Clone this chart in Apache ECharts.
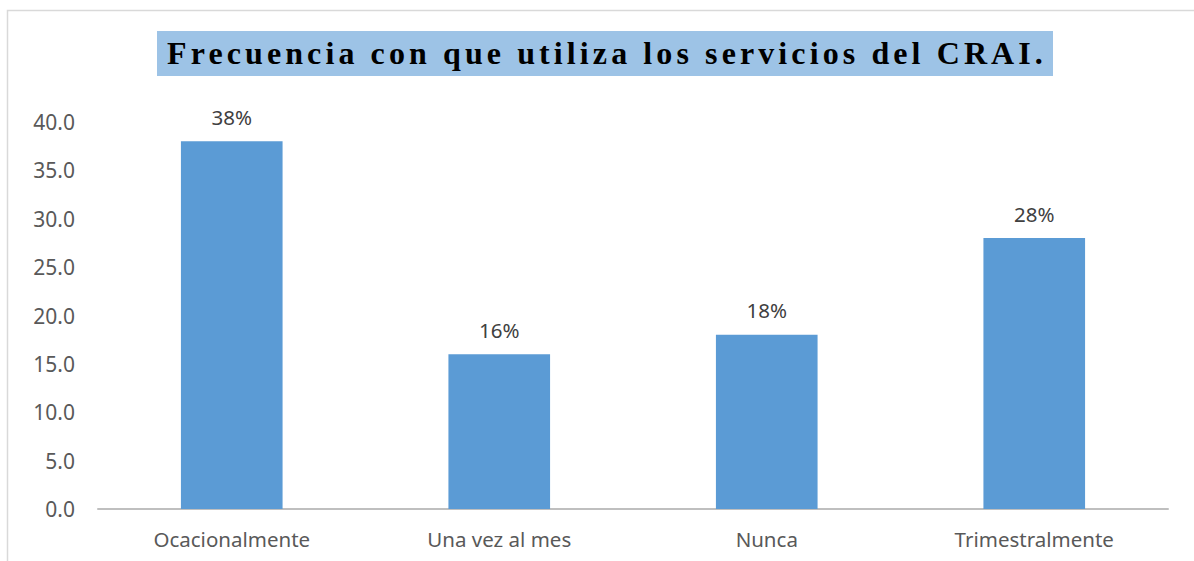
<!DOCTYPE html>
<html>
<head>
<meta charset="utf-8">
<script src="https://cdn.jsdelivr.net/npm/echarts@6/dist/echarts.min.js"></script>
<style>
html,body{margin:0;padding:0;background:#fff;}
#chart{width:1194px;height:561px;}
#chart svg text[style*="Liberation Serif"]{letter-spacing:4.1px;}
</style>
</head>
<body>
<div id="chart"></div>
<script>
const titleText = 'Frecuencia con que utiliza los servicios del CRAI.';
const categories = ['Ocacionalmente', 'Una vez al mes', 'Nunca', 'Trimestralmente'];
const values = [38, 16, 18, 28];
const yTicks = { min: 0, max: 40, interval: 5 };

const chart = echarts.init(document.getElementById('chart'), null, { renderer: 'svg' });
chart.setOption({
  animation: false,
  backgroundColor: '#ffffff',
  graphic: [
    {
      type: 'rect', silent: true, z: -10,
      shape: { x: 7.5, y: 10.5, width: 1300, height: 700 },
      style: { fill: 'none', stroke: '#d9d9d9', lineWidth: 1.5 }
    },
    {
      type: 'rect', silent: true,
      shape: { x: 157, y: 31, width: 896, height: 45 },
      style: { fill: '#9dc3e6' }
    },
    {
      type: 'text', silent: true,
      x: 607, y: 53,
      style: {
        text: titleText,
        fill: '#000000',
        font: 'bold 32px "Liberation Serif"',
        textAlign: 'center',
        textVerticalAlign: 'middle'
      }
    }
  ],
  grid: { left: 98, right: 26, top: 122, bottom: 52, containLabel: false },
  xAxis: {
    type: 'category',
    data: categories,
    axisTick: { show: false },
    axisLine: { show: true, lineStyle: { color: '#bfbfbf', width: 2 } },
    axisLabel: { color: '#595959', fontSize: 20.5, fontFamily: 'Noto Sans', margin: 19 }
  },
  yAxis: {
    type: 'value',
    min: yTicks.min, max: yTicks.max, interval: yTicks.interval,
    axisLine: { show: false },
    axisTick: { show: false },
    splitLine: { show: false },
    axisLabel: {
      color: '#595959', fontSize: 21, fontFamily: 'Noto Sans', margin: 23,
      formatter: v => v.toFixed(1)
    }
  },
  series: [{
    type: 'bar',
    data: values,
    barWidth: '38%',
    itemStyle: { color: '#5b9bd5' },
    label: {
      show: true, position: 'top', distance: 14,
      color: '#404040', fontSize: 20.5, fontFamily: 'Noto Sans',
      formatter: p => p.value + '%'
    }
  }]
});
</script>
</body>
</html>
